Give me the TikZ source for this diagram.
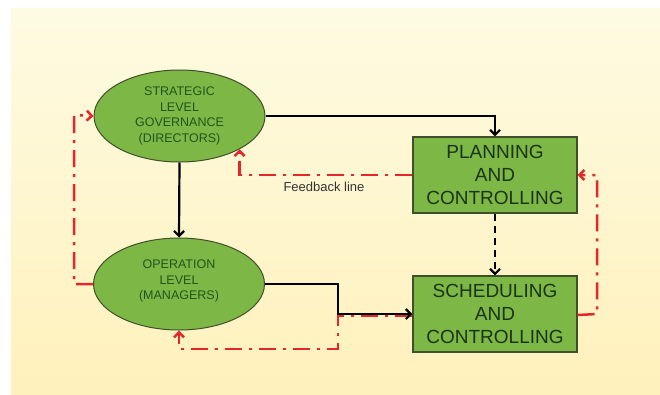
\documentclass[tikz,border=0pt]{standalone}
\usepackage{fontspec}
\setmainfont{Liberation Sans}
\usetikzlibrary{arrows.meta,shapes.geometric}
\definecolor{bgtop}{HTML}{FDFBE2}
\definecolor{bgmid}{HTML}{FFFEF4}
\definecolor{bgbot}{HTML}{FFF1BC}
\definecolor{leaf}{HTML}{7DB846}
\definecolor{leafedge}{HTML}{3F4F2C}
\definecolor{elltext}{HTML}{1F551C}
\definecolor{boxtext}{HTML}{1B3314}
\definecolor{fbred}{HTML}{E5262B}
\definecolor{lbl}{HTML}{333333}
\tikzset{
  ellnode/.style={ellipse, draw=leafedge, line width=1pt, fill=leaf, minimum width=171pt, minimum height=92pt, inner sep=0pt, align=center, text=elltext, font=\fontsize{12.5}{15.7}\selectfont},
  boxnode/.style={rectangle, draw=leafedge, line width=1.3pt, fill=leaf, minimum width=164pt, minimum height=76pt, inner sep=0pt, align=center, text=boxtext, font=\fontsize{19}{23.3}\selectfont},
  flow/.style={draw=black, line width=2.2pt, -{Straight Barb[length=5pt,width=10pt]}},
  dflow/.style={flow, dash pattern=on 7pt off 5pt},
  fb/.style={draw=fbred, line width=2.5pt, dash pattern=on 17pt off 7pt on 3pt off 7pt, -{Straight Barb[length=5pt,width=10pt]}},
}
\begin{document}
\begin{tikzpicture}[x=1pt,y=-1pt]
\useasboundingbox (0,0) rectangle (660,394);
\fill[white] (0,0) rectangle (660,394);
\shade[top color=bgtop, middle color=bgmid, bottom color=bgbot] (11,8) rectangle (660,394);

\node[ellnode] (strat) at (179.5,116) {STRATEGIC\\LEVEL\\GOVERNANCE\\(DIRECTORS)};
\node[ellnode] (op) at (179,284) {OPERATION\\LEVEL\\(MANAGERS)\\[-7pt]};
\node[boxnode] (plan) at (495,175) {PLANNING\\AND\\CONTROLLING};
\node[boxnode] (sched) at (495,314) {SCHEDULING\\AND\\CONTROLLING};
\node[font=\fontsize{13}{15}\selectfont, text=lbl] (fbl) at (324,187) {Feedback line};

\coordinate (c2) at (74,115);
\coordinate (c3) at (597,175);
\coordinate (c4) at (338,284);
\coordinate (c5) at (338,349);

% red feedback lines
\draw[fb] (plan.west) -- (strat.-29 |- plan.west) -- (strat.-29);
\draw[fb] (op.west) -- (c2 |- op.west) -- (c2) -- (strat.west);
\draw[fb] ([yshift=-1pt]sched.east) -- (c3 |- sched.east) -- (c3) -- (plan.east);
\draw[fb] ([yshift=-1.5pt]sched.west) -- ([yshift=-1.5pt]c4 |- sched.west) -- (c5) -- (op.south |- c5) -- (op.south);

% black flows
\draw[flow] (strat.east) -| (plan.north);
\draw[flow] (strat.south) -- (op.north);
\draw[dflow] (plan.south) -- (sched.north);
\draw[flow] (op.east) -- (c4) -- (c4 |- sched.west) -- (sched.west);
\end{tikzpicture}
\end{document}
